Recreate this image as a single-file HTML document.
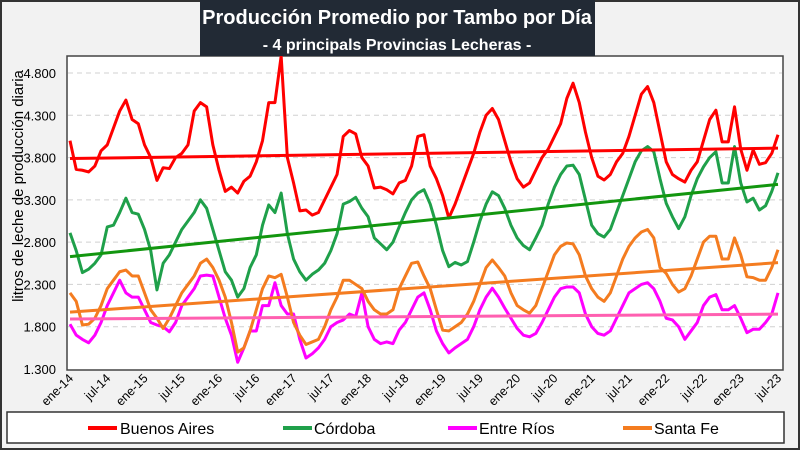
<!DOCTYPE html>
<html><head><meta charset="utf-8"><style>
body{margin:0;background:#fff}
svg text{font-family:"Liberation Sans",sans-serif}
</style></head><body>
<svg width="800" height="450" viewBox="0 0 800 450" xmlns="http://www.w3.org/2000/svg">
<rect x="1" y="1" width="798" height="448" fill="#f2f2f2" stroke="#333" stroke-width="2"/>
<rect x="67" y="56" width="716" height="314" fill="#fff" stroke="#444" stroke-width="1.5"/>
<g id="grid"></g>
<g id="yticks"></g>
<g id="xticks"></g>
<g id="series"></g>
<rect x="200" y="0" width="395" height="56" fill="#222a35"/>
<text x="397" y="24" text-anchor="middle" fill="#fff" font-size="20" font-weight="bold">Producción Promedio por Tambo por Día</text>
<text x="397" y="50" text-anchor="middle" fill="#fff" font-size="16" font-weight="bold">- 4 principals Provincias Lecheras -</text>
<text transform="translate(23,186) rotate(-90)" text-anchor="middle" font-size="15" fill="#000">litros de leche de producción diaria</text>
<rect x="7" y="412" width="777" height="31" fill="#fff" stroke="#333" stroke-width="1.5"/>
<g><line x1="88" y1="428" x2="117" y2="428" stroke="#ff0000" stroke-width="4"/><text x="120" y="434" font-size="16">Buenos Aires</text></g>
<g><line x1="283" y1="428" x2="312" y2="428" stroke="#1fa04a" stroke-width="4"/><text x="314" y="434" font-size="16">Córdoba</text></g>
<g><line x1="448" y1="428" x2="477" y2="428" stroke="#ff00ff" stroke-width="4"/><text x="479" y="434" font-size="16">Entre Ríos</text></g>
<g><line x1="623" y1="428" x2="652" y2="428" stroke="#f47c20" stroke-width="4"/><text x="654" y="434" font-size="16">Santa Fe</text></g>
</svg>
<script>
const yTicks=[1300,1800,2300,2800,3300,3800,4300,4800];
const yTickLabels=["1.300","1.800","2.300","2.800","3.300","3.800","4.300","4.800"];
const xTickLabels=["ene-14","jul-14","ene-15","jul-15","ene-16","jul-16","ene-17","jul-17","ene-18","jul-18","ene-19","jul-19","ene-20","jul-20","ene-21","jul-21","ene-22","jul-22","ene-23","jul-23"];
const buenosAires=[4000,3660,3650,3630,3700,3880,3950,4150,4350,4480,4250,4200,
3950,3800,3530,3680,3670,3800,3850,3950,4350,4450,4400,3950,
3650,3400,3450,3380,3520,3580,3750,4000,4450,4450,5000,3800,
3500,3170,3180,3120,3150,3300,3450,3600,4050,4120,4080,3800,
3700,3440,3450,3420,3370,3500,3530,3700,4050,4070,3700,3550,
3350,3085,3250,3450,3650,3850,4100,4300,4380,4250,4000,3750,
3550,3450,3500,3650,3800,3900,4050,4200,4500,4680,4450,4100,
3800,3580,3535,3600,3750,3850,4050,4300,4550,4640,4450,4100,
3750,3600,3550,3510,3650,3750,4000,4250,4360,3985,3985,4400,
3900,3650,3890,3720,3740,3850,4070];
const cordoba=[2910,2700,2440,2480,2550,2650,2980,3000,3150,3320,3150,3130,
2950,2700,2235,2550,2650,2800,2950,3050,3150,3300,3200,2950,
2700,2450,2350,2150,2250,2500,2650,3000,3240,3150,3380,2900,
2600,2450,2350,2420,2470,2550,2700,2900,3250,3280,3330,3200,
3100,2850,2780,2710,2800,2980,3150,3300,3380,3420,3250,3000,
2700,2510,2560,2530,2570,2800,3050,3250,3395,3350,3200,3000,
2850,2760,2710,2850,3000,3250,3450,3600,3700,3710,3600,3300,
3000,2900,2860,2950,3150,3350,3550,3750,3880,3930,3870,3550,
3260,3100,2960,3100,3350,3550,3690,3800,3870,3500,3500,3930,
3500,3275,3320,3180,3230,3400,3620];
const entreRios=[1830,1700,1650,1610,1700,1850,2050,2200,2350,2200,2150,2150,
2000,1850,1820,1800,1740,1850,2050,2150,2250,2400,2410,2400,
2150,1900,1700,1380,1550,1750,1750,2050,2050,2320,2050,1950,
1950,1650,1430,1480,1550,1650,1800,1850,1880,1950,1920,2200,
1800,1650,1600,1620,1600,1760,1850,2000,2150,2200,2000,1750,
1600,1490,1550,1600,1650,1800,2000,2150,2255,2150,2020,1900,
1780,1700,1680,1720,1850,2000,2150,2250,2270,2270,2200,1950,
1800,1720,1700,1750,1900,2050,2200,2250,2300,2320,2250,2100,
1900,1880,1800,1650,1750,1850,2050,2150,2180,2000,2000,2050,
1900,1730,1770,1770,1850,1950,2200];
const santaFe=[2200,2100,1820,1830,1900,2050,2250,2350,2450,2470,2400,2400,
2200,2000,1900,1780,1900,2050,2200,2300,2400,2550,2600,2500,
2350,2150,1850,1500,1550,1750,2000,2250,2400,2380,2420,2150,
1850,1700,1590,1620,1650,1800,2000,2150,2350,2350,2300,2250,
2100,2000,1950,1950,2000,2250,2400,2550,2565,2400,2250,2000,
1760,1750,1800,1850,1950,2100,2300,2500,2590,2500,2400,2200,
2050,2000,1960,2050,2250,2450,2650,2750,2790,2780,2650,2400,
2250,2150,2100,2200,2400,2600,2750,2850,2920,2950,2850,2500,
2430,2300,2210,2250,2400,2600,2800,2870,2870,2600,2600,2850,
2650,2390,2380,2350,2350,2500,2710];

const NS="http://www.w3.org/2000/svg";
const x0=70,x1=778,n=buenosAires.length;
function xs(i){return x0+(x1-x0)*i/(n-1);}
function ys(v){return 369-(v-1300)*(369-73)/3500;}
function mk(tag,attrs,parent){const e=document.createElementNS(NS,tag);for(const k in attrs)e.setAttribute(k,attrs[k]);parent.appendChild(e);return e;}
const grid=document.getElementById('grid'),yt=document.getElementById('yticks'),xt=document.getElementById('xticks'),sg=document.getElementById('series');
yTicks.forEach((v,i)=>{
  if(v>1300){const l=mk('line',{x1:68,x2:782,y1:ys(v),y2:ys(v),stroke:'#d0d0d0','stroke-dasharray':'5,4'},grid);
  
  }
  const t=mk('text',{x:56,y:ys(v)+5,'text-anchor':'end','font-size':'13'},yt);
  t.textContent=yTickLabels[i];
  
  
});
xTickLabels.forEach((s,i)=>{
  const x=xs(i*6);
  const t=mk('text',{transform:`translate(${x+4},${379}) rotate(-45)`,'text-anchor':'end','font-size':'12.5'},xt);
  t.textContent=s;
  
  
});
function trend(arr){let sx=0,sy=0,sxx=0,sxy=0;arr.forEach((v,i)=>{sx+=i;sy+=v;sxx+=i*i;sxy+=i*v;});const b=(n*sxy-sx*sy)/(n*sxx-sx*sx);const a=(sy-b*sx)/n;return [a,a+b*(n-1)];}
const seriesList=[[buenosAires,'#ff0000','#ff0000','buenos-aires'],[cordoba,'#1fa04a','#12960f','cordoba'],[entreRios,'#ff00ff','#ff5fb0','entre-rios'],[santaFe,'#f47c20','#f47c20','santa-fe']];
seriesList.forEach(([arr,c,tc,name])=>{
  const p=mk('polyline',{points:arr.map((v,i)=>xs(i)+','+ys(v)).join(' '),fill:'none',stroke:c,'stroke-width':'3','stroke-linejoin':'round'},sg);
  
  
});
seriesList.forEach(([arr,c,tc,name])=>{
  const [a,b]=trend(arr);
  const l=mk('line',{x1:xs(0),y1:ys(a),x2:xs(n-1),y2:ys(b),stroke:tc,'stroke-width':'3'},sg);
  
  
});
</script>
</body></html>
